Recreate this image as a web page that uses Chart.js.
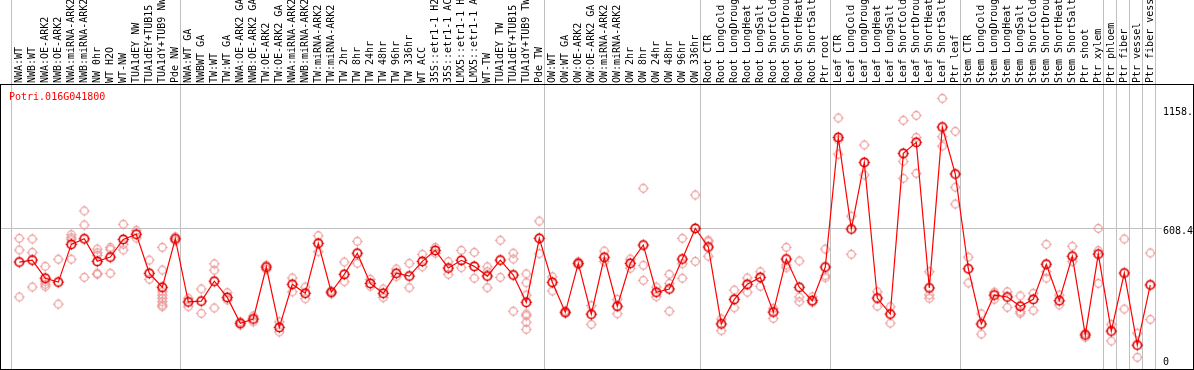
<!DOCTYPE html>
<html>
<head>
<meta charset="utf-8">
<script src="https://cdn.jsdelivr.net/npm/chart.js@4/dist/chart.umd.min.js"></script>
<style>
    html, body { margin: 0; padding: 0; background: #fff; }
    canvas { display: block; }
</style>
</head>
<body>
<canvas id="grafica" width="1194" height="370"></canvas>
<script>
const GEN = "Potri.016G041800";

// Muestras en el mismo orden que la cabecera
const muestras = [
    "NWA:WT", "NWB:WT", "NWA:OE-ARK2", "NWB:OE-ARK2", "NWA:miRNA-ARK2", "NWB:miRNA-ARK2", "NW 0hr", "WT H2O", "WT-NW",
    "TUA1dEY NW", "TUA1dEY+TUB15 NW", "TUA1dY+TUB9 NW", "Pde NW",
    "NWA:WT GA", "NWBWT GA", "TW:WT", "TW:WT GA", "NWA:OE-ARK2 GA", "NWB:OE-ARK2 GA", "TW:OE-ARK2", "TW:OE-ARK2 GA",
    "NWA:miRNA-ARK2", "NWB:miRNA-ARK2", "TW:miRNA-ARK2", "TW:miRNA-ARK2", "TW 2hr", "TW 8hr", "TW 24hr", "TW 48hr",
    "TW 96hr", "TW 336hr", "WT ACC", "35S::etr1-1 H2O", "35S::etr1-1 ACC", "LMX5::etr1-1 H2O", "LMX5::etr1-1 ACC",
    "WT-TW", "TUA1dEY TW", "TUA1dEY+TUB15 TW", "TUA1dY+TUB9 TW", "Pde TW",
    "OW:WT", "OW:WT GA", "OW:OE-ARK2", "OW:OE-ARK2 GA", "OW:miRNA-ARK2", "OW:miRNA-ARK2", "OW 2hr", "OW 8hr",
    "OW 24hr", "OW 48hr", "OW 96hr", "OW 336hr",
    "Root CTR", "Root LongCold", "Root LongDrought", "Root LongHeat", "Root LongSalt", "Root ShortCold",
    "Root ShortDrought", "Root ShortHeat", "Root ShortSalt", "Ptr root",
    "Leaf CTR", "Leaf LongCold", "Leaf LongDrought", "Leaf LongHeat", "Leaf LongSalt", "Leaf ShortCold",
    "Leaf ShortDrought", "Leaf ShortHeat", "Leaf ShortSalt", "Ptr leaf",
    "Stem CTR", "Stem LongCold", "Stem LongDrought", "Stem LongHeat", "Stem LongSalt", "Stem ShortCold",
    "Stem ShortDrought", "Stem ShortHeat", "Stem ShortSalt", "Ptr shoot", "Ptr xylem",
    "Ptr phloem", "Ptr fiber", "Ptr vessel", "Ptr fiber vessel"
];

// Media de expresión por muestra
const medias = [
    452, 461, 377, 359, 534, 560, 455, 475, 557, 581, 400, 335, 560,
    267, 271, 363, 288, 168, 188, 429, 149, 349, 307, 539, 312, 395, 493, 353, 307, 400, 387, 455, 506, 424,
    460, 432, 387, 461, 392, 265, 562,
    358, 219, 446, 210, 474, 247, 446, 531, 312, 327, 466, 608,
    522, 165, 279, 349, 381, 220, 466, 335, 273, 429,
    1030, 605, 914, 285, 211, 956, 1007, 332, 1078, 860,
    421, 165, 299, 290, 247, 279, 442, 273, 479, 114, 489,
    132, 401, 67, 346
];

// Réplicas individuales por muestra
const replicas = [
    [562, 508, 290], [559, 497, 336], [432, 361, 349, 338], [465, 257], [579, 565, 556, 465], [689, 624, 381],
    [512, 495, 483, 400, 395], [520, 511, 400], [627, 534, 508], [599, 563], [461, 372],
    [520, 415, 314, 299, 284, 268, 253, 245], [569, 550],
    [284, 245], [327, 214], [444, 414, 239], [310, 276], [175, 160], [202, 175], [437, 418], [175, 128],
    [378, 314], [336, 282], [574, 500], [318, 305], [452, 361], [548, 446], [372, 340], [327, 287],
    [420, 384], [446, 333], [488, 430], [520, 493], [454, 395], [506, 426], [497, 377],
    [430, 407, 333], [553, 381], [493, 466, 224], [397, 356, 299, 211, 203, 173, 140], [642, 491],
    [384, 318], [225, 213], [454, 440], [250, 163], [503, 454], [279, 212], [466, 423], [794, 437, 367],
    [336, 291], [395, 353, 224], [562, 444, 377], [763, 455],
    [553, 546, 479], [188, 134], [322, 240], [378, 312], [407, 339], [237, 191], [520, 438, 426],
    [457, 290, 268], [291, 265], [512, 389, 379],
    [1120, 1018, 952], [665, 488], [995, 856], [314, 247], [245, 169], [1109, 919, 840], [1132, 1030, 863],
    [407, 299, 284], [1211, 1033, 990], [1058, 799, 721],
    [475, 355], [212, 118], [312, 279], [314, 242], [295, 222, 214], [307, 228], [534, 407, 377],
    [299, 253], [525, 454], [122, 103], [608, 505, 353],
    [163, 86], [559, 234], [122, 10], [494, 186]
];

// Primer índice de cada grupo de muestras (separadores verticales)
const gruposInicio = [0, 13, 41, 53, 63, 73, 84, 85, 86, 87];

const marcasY = [0, 608.4, 1158];
const etiquetasY = ["0", "608.4", "1158."];

const FUENTE = '"DejaVu Sans Mono", monospace';

function crearMarcador(color, radio, grosor) {
    const c = document.createElement("canvas");
    c.width = 15; c.height = 15;
    const g = c.getContext("2d");
    g.strokeStyle = color;
    g.lineWidth = grosor;
    g.beginPath(); g.arc(7.5, 7.5, radio, 0, Math.PI * 2); g.stroke();
    g.lineWidth = 1;
    g.beginPath();
    g.moveTo(7.5, 7.5 - radio - 1.5); g.lineTo(7.5, 7.5 - radio);
    g.moveTo(7.5, 7.5 + radio); g.lineTo(7.5, 7.5 + radio + 1.5);
    g.moveTo(7.5 - radio - 1.5, 7.5); g.lineTo(7.5 - radio, 7.5);
    g.moveTo(7.5 + radio, 7.5); g.lineTo(7.5 + radio + 1.5, 7.5);
    g.stroke();
    return c;
}

const puntosReplica = [];
replicas.forEach((lista, i) => lista.forEach(v => puntosReplica.push({ x: i, y: v })));
const puntosMedia = medias.map((v, i) => ({ x: i, y: v }));

const decorado = {
    id: "decorado",
    beforeDatasetsDraw(chart) {
        const { ctx, chartArea: ca, scales: { x } } = chart;
        ctx.save();
        ctx.strokeStyle = "#c0c0c0";
        ctx.lineWidth = 1;
        gruposInicio.concat([muestras.length]).forEach(b => {
            const px = Math.round(x.getPixelForValue(b - 0.62)) + 0.5;
            ctx.beginPath(); ctx.moveTo(px, 0); ctx.lineTo(px, ca.bottom); ctx.stroke();
        });
        ctx.restore();
    },
    afterDraw(chart) {
        const { ctx, chartArea: ca, scales: { y } } = chart;
        ctx.save();
        ctx.strokeStyle = "#000";
        ctx.lineWidth = 1;
        ctx.strokeRect(ca.left - 0.5, ca.top - 0.5, ca.width + 1, ca.height + 1);

        ctx.font = "10px " + FUENTE;
        ctx.textBaseline = "middle";
        ctx.textAlign = "left";
        marcasY.forEach((v, i) => {
            const py = y.getPixelForValue(v);
            ctx.fillStyle = "#fff";
            ctx.fillRect(1162, py - 4, 30, 9);
            ctx.fillStyle = "#000";
            ctx.fillText(etiquetasY[i], 1163, py + 3);
        });

        ctx.fillStyle = "#ff0000";
        ctx.fillText(GEN, 9, ca.top + 12);
        ctx.restore();
    }
};

new Chart(document.getElementById("grafica"), {
    type: "scatter",
    data: {
        datasets: [
            {
                label: "media", data: puntosMedia, showLine: true, order: 0,
                borderColor: "#ff0000", borderWidth: 1.2, tension: 0,
                pointStyle: crearMarcador("#e00000", 4.2, 1.7), pointRadius: 5
            },
            {
                label: "réplicas", data: puntosReplica, showLine: false, order: 1,
                pointStyle: crearMarcador("#ea9494", 3.8, 1.2), pointRadius: 5
            }
        ]
    },
    options: {
        responsive: false,
        animation: false,
        layout: { autoPadding: false, padding: { left: 1, right: 1, bottom: 1, top: 0 } },
        plugins: { legend: { display: false }, tooltip: { enabled: false } },
        scales: {
            x: {
                type: "linear",
                position: "top",
                min: -1.408,
                max: 90.285,
                afterBuildTicks: s => { s.ticks = muestras.map((_, i) => ({ value: i })); },
                afterFit: s => { s.height = 85; s.paddingLeft = 0; s.paddingRight = 0; },
                ticks: {
                    autoSkip: false, minRotation: 90, maxRotation: 90, padding: 2, labelOffset: 12,
                    color: "#000", font: { family: FUENTE, size: 10 },
                    callback: v => muestras[v]
                },
                grid: { display: false, drawTicks: false },
                border: { display: false }
            },
            y: {
                position: "right",
                min: -44,
                max: 1273,
                afterBuildTicks: s => { s.ticks = [{ value: 608.4 }]; },
                afterFit: s => { s.width = 0; s.paddingTop = 0; s.paddingBottom = 0; },
                ticks: { display: false },
                grid: { color: "#c0c0c0", drawTicks: false },
                border: { display: false }
            }
        }
    },
    plugins: [decorado]
});
</script>
</body>
</html>
